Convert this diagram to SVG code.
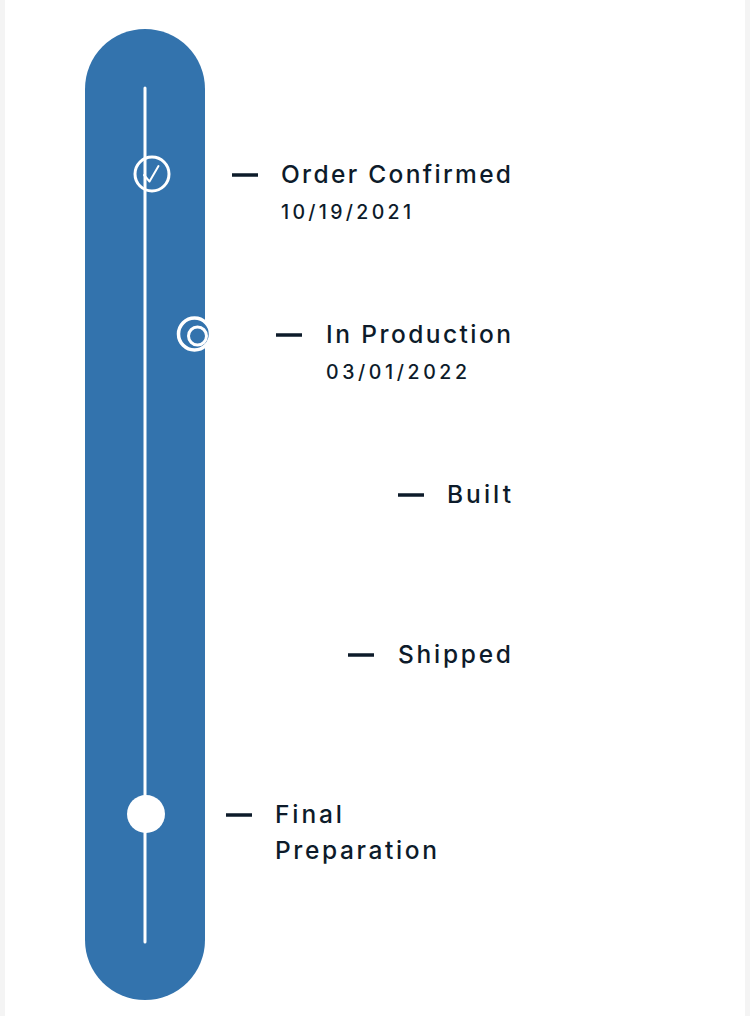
<svg xmlns="http://www.w3.org/2000/svg" width="750" height="1016" viewBox="0 0 750 1016">
<style>
.lbl{font-family:Inter,"Noto Sans","Liberation Sans",sans-serif;font-weight:500;fill:#0d1b2a;}
.t{font-size:24.5px;}
.d{font-size:19.5px;}
.dash{stroke:#0d1b2a;stroke-width:3.5;}
.ring{fill:none;stroke:#ffffff;stroke-width:3;}
</style>
<rect x="0" y="0" width="750" height="1016" fill="#ffffff"/>
<rect x="0" y="0" width="5" height="1016" fill="#f4f4f4"/>
<rect x="745" y="0" width="5" height="1016" fill="#f4f4f4"/>
<g id="track">
<rect x="85" y="29" width="120" height="971" rx="60" ry="60" fill="#3373ad"/>
<line x1="145" y1="88" x2="145" y2="942" stroke="#ffffff" stroke-width="3" stroke-linecap="round"/>
</g>
<g id="connectors">
<line class="dash" x1="232" y1="175" x2="258" y2="175"/>
<line class="dash" x1="276" y1="335" x2="302" y2="335"/>
<line class="dash" x1="398" y1="495" x2="424" y2="495"/>
<line class="dash" x1="348" y1="655" x2="374" y2="655"/>
<line class="dash" x1="226" y1="815" x2="252" y2="815"/>
</g>
<g id="order-confirmed">
<circle cx="152" cy="174" r="17" fill="#3373ad" class="ring"/>
<path d="M144 175 L149.5 181.5 L158.5 166" fill="none" stroke="#ffffff" stroke-width="2" stroke-linecap="round" stroke-linejoin="round"/>
<text class="lbl t" x="281" y="183" textLength="230" lengthAdjust="spacing">Order Confirmed</text>
<text class="lbl d" x="281" y="219" textLength="130" lengthAdjust="spacing">10/19/2021</text>
</g>
<g id="in-production">
<circle cx="194.5" cy="334" r="16" fill="#3373ad" stroke="#ffffff" stroke-width="3.5"/>
<circle cx="197.5" cy="336" r="9" fill="#3373ad" stroke="#ffffff" stroke-width="3"/>
<text class="lbl t" x="326" y="343" textLength="185" lengthAdjust="spacing">In Production</text>
<text class="lbl d" x="326" y="379" textLength="141" lengthAdjust="spacing">03/01/2022</text>
</g>
<g id="built">
<text class="lbl t" x="447" y="503" textLength="64" lengthAdjust="spacing">Built</text>
</g>
<g id="shipped">
<text class="lbl t" x="398" y="663" textLength="113" lengthAdjust="spacing">Shipped</text>
</g>
<g id="final-preparation">
<circle cx="146" cy="814" r="19" fill="#ffffff"/>
<text class="lbl t" x="275" y="823" textLength="67" lengthAdjust="spacing">Final</text>
<text class="lbl t" x="275" y="859" textLength="162" lengthAdjust="spacing">Preparation</text>
</g>
</svg>
